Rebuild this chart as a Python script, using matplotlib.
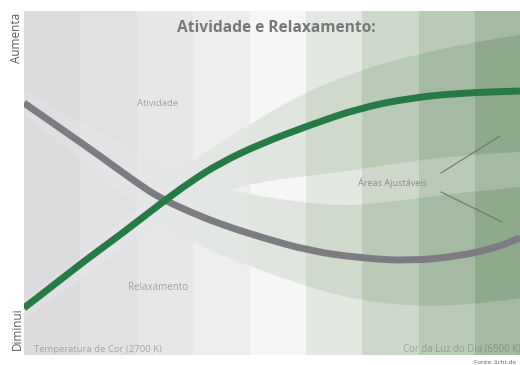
import numpy as np
import matplotlib.pyplot as plt
from matplotlib.path import Path
from matplotlib.patches import PathPatch, Rectangle

plt.rcParams['font.family'] = ['Open Sans', 'DejaVu Sans']

# positions along the colour-temperature scale (left = 2700 K, right = daylight)
atividade_x = [24, 60, 100, 137, 160, 190, 220, 260, 310, 360, 410, 460, 495, 520]
atividade_y = [103, 128, 156, 183, 198, 212, 224, 237, 251, 258, 261, 256, 248, 238]

relax_x = [24, 55, 87, 120, 160, 190, 220, 260, 310, 360, 410, 460, 520]
relax_y = [308, 284, 259, 235, 204, 182, 163, 144, 125, 108, 98, 93, 91]

# adjustable areas around each curve
band_x = [24, 60, 100, 140, 180, 220, 260, 300, 340, 380, 420, 460, 500, 520]
relax_hi = [300, 272, 240, 205, 170, 143, 118, 95, 78, 64, 54, 45, 38, 35]
relax_lo = [318, 295, 265, 235, 208, 192, 182, 177, 172, 166, 160, 156, 153, 152]
ativ_hi = [92, 110, 132, 155, 175, 188, 196, 202, 206, 203, 198, 193, 189, 187]
ativ_lo = [115, 143, 176, 208, 235, 255, 270, 284, 296, 303, 306, 305, 301, 298]

# background steps from warm (grey) to daylight (green)
stripe_bg = ['#dcdcde', '#e1e1e3', '#e7e7e8', '#ededee', '#f6f6f6',
             '#e3e8e2', '#cdd8cb', '#b9cab6', '#a5baa2']
stripe_band = ['#e0e0e2', '#e4e4e6', '#e5e6e6', '#e3e7e3', '#e0e6df',
               '#cfdacd', '#b9cab6', '#a5baa2', '#8fa98c']


def smooth_verts(xs, ys):
    """Quadratic bezier through the midpoints, using the points as controls."""
    p = np.column_stack([xs, ys]).astype(float)
    verts = [p[0]]
    codes = [Path.MOVETO]
    for i in range(1, len(p) - 1):
        verts += [p[i], (p[i] + p[i + 1]) / 2]
        codes += [Path.CURVE3, Path.CURVE3]
    verts.append(p[-1])
    codes.append(Path.LINETO)
    return verts, codes


def band_path(xs, hi, lo):
    v1, c1 = smooth_verts(xs, hi)
    v2, c2 = smooth_verts(xs[::-1], lo[::-1])
    c2[0] = Path.LINETO
    return Path(v1 + v2 + [v1[0]], c1 + c2 + [Path.CLOSEPOLY])


def curve_path(xs, ys):
    v, c = smooth_verts(xs, ys)
    return Path(v, c)


fig = plt.figure(figsize=(5.2, 3.65), dpi=100)
ax = fig.add_axes([24 / 520, 10 / 365, 496 / 520, 344 / 365])
ax.set_xlim(24, 520)
ax.set_ylim(355, 11)
ax.axis('off')

w = 56.4
for i, (bg, band) in enumerate(zip(stripe_bg, stripe_band)):
    x0 = 24 + i * w
    ax.axvspan(x0, x0 + w, color=bg, lw=0, zorder=0)
    for hi, lo in [(relax_hi, relax_lo), (ativ_hi, ativ_lo)]:
        patch = PathPatch(band_path(band_x, hi, lo), facecolor=band, lw=0, zorder=1)
        ax.add_patch(patch)
        patch.set_clip_path(Rectangle((x0, 0), w, 400, transform=ax.transData))

ax.add_patch(PathPatch(curve_path(atividade_x, atividade_y), fill=False,
                       edgecolor='#7d7d81', lw=5, capstyle='butt', zorder=3))
ax.add_patch(PathPatch(curve_path(relax_x, relax_y), fill=False,
                       edgecolor='#277a45', lw=5, capstyle='butt', zorder=4))

ax.text(276, 28, 'Atividade e Relaxamento:', ha='center', va='center',
        fontsize=11.2, fontweight='bold', color='#78787b', zorder=5)
ax.text(158, 104, 'Atividade', ha='center', va='center', fontsize=6.8,
        color='#a2a2a5', zorder=5)
ax.text(158, 287, 'Relaxamento', ha='center', va='center', fontsize=7,
        color='#a2a2a5', zorder=5)
ax.text(392, 183, 'Áreas Ajustáveis', ha='center', va='center', fontsize=6.6,
        color='#8a8f89', zorder=5)
ax.plot([441, 500], [173, 136], color='#6e766d', lw=0.8, zorder=5)
ax.plot([441, 502], [192, 222], color='#6e766d', lw=0.8, zorder=5)
ax.text(34, 349, 'Temperatura de Cor (2700 K)', ha='left', va='center',
        fontsize=6.8, color='#a5a5a8', zorder=5)
ax.text(521, 349, 'Cor da Luz do Dia (6500 K)', ha='right', va='center',
        fontsize=6.9, color='#5f6d5c', alpha=0.45, zorder=5)

fig.text(17 / 520, 1 - 38 / 365, 'Aumenta', rotation=90, ha='center', va='center',
         fontsize=8.5, color='#5a5a5c')
fig.text(17 / 520, 1 - 329 / 365, 'Diminui', rotation=90, ha='center', va='center',
         fontsize=8.5, color='#5a5a5c')
fig.text(474 / 520, 1 - 362 / 365, 'Fonte: licht.de', ha='left', va='center',
         fontsize=4.6, color='#5a5a5c')

fig.savefig('out.png', dpi=100)
